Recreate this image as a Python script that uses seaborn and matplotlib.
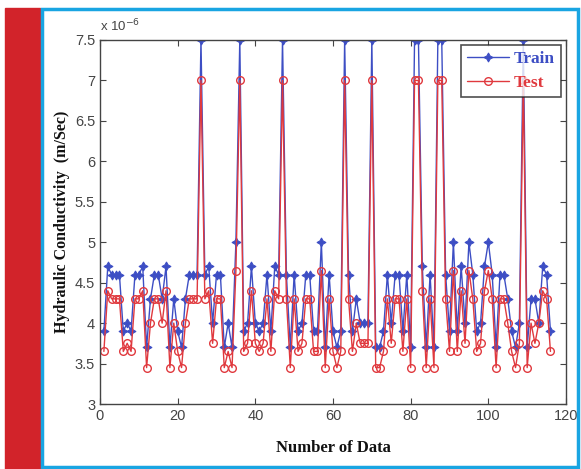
import numpy as np
import matplotlib
matplotlib.use('Agg')
from matplotlib import pyplot as plt
from matplotlib.patches import Rectangle
from matplotlib.ticker import MultipleLocator, FormatStrFormatter
import seaborn as sns

# sample index (1..116), values in units of 1e-6 m/s
num_data = list(range(1, 117))

train = [
    3.9, 4.7, 4.6, 4.6, 4.6, 3.9, 4.0, 3.9, 4.6, 4.6,
    4.7, 3.7, 4.3, 4.6, 4.6, 4.3, 4.7, 3.7, 4.3, 3.9,
    3.7, 4.3, 4.6, 4.6, 4.6, 7.5, 4.6, 4.7, 4.0, 4.6,
    4.6, 3.7, 4.0, 3.7, 5.0, 7.5, 3.9, 4.0, 4.7, 4.0,
    3.9, 4.0, 4.6, 3.9, 4.7, 4.6, 7.5, 4.6, 3.7, 4.6,
    3.9, 4.0, 4.6, 4.6, 3.9, 3.9, 5.0, 3.7, 4.6, 3.9,
    3.7, 3.9, 7.5, 4.6, 3.9, 4.3, 4.0, 4.0, 4.0, 7.5,
    3.7, 3.7, 3.9, 4.6, 4.0, 4.6, 4.6, 3.9, 4.6, 3.7,
    7.5, 7.5, 4.7, 3.7, 4.6, 3.7, 7.5, 7.5, 4.6, 3.9,
    5.0, 3.9, 4.7, 4.0, 5.0, 4.6, 3.9, 4.0, 4.7, 5.0,
    4.6, 3.7, 4.6, 4.6, 4.3, 3.9, 3.7, 4.0, 7.5, 3.7,
    4.3, 4.3, 4.0, 4.7, 4.6, 3.9,
]

test = [
    3.65, 4.4, 4.3, 4.3, 4.3, 3.65, 3.75, 3.65, 4.3, 4.3,
    4.4, 3.45, 4.0, 4.3, 4.3, 4.0, 4.4, 3.45, 4.0, 3.65,
    3.45, 4.0, 4.3, 4.3, 4.3, 7.0, 4.3, 4.4, 3.75, 4.3,
    4.3, 3.45, 3.65, 3.45, 4.65, 7.0, 3.65, 3.75, 4.4, 3.75,
    3.65, 3.75, 4.3, 3.65, 4.4, 4.3, 7.0, 4.3, 3.45, 4.3,
    3.65, 3.75, 4.3, 4.3, 3.65, 3.65, 4.65, 3.45, 4.3, 3.65,
    3.45, 3.65, 7.0, 4.3, 3.65, 4.0, 3.75, 3.75, 3.75, 7.0,
    3.45, 3.45, 3.65, 4.3, 3.75, 4.3, 4.3, 3.65, 4.3, 3.45,
    7.0, 7.0, 4.4, 3.45, 4.3, 3.45, 7.0, 7.0, 4.3, 3.65,
    4.65, 3.65, 4.4, 3.75, 4.65, 4.3, 3.65, 3.75, 4.4, 4.65,
    4.3, 3.45, 4.3, 4.3, 4.0, 3.65, 3.45, 3.75, 7.0, 3.45,
    4.0, 3.75, 4.0, 4.4, 4.3, 3.65,
]

sns.set_style('ticks')
plt.rcParams['font.family'] = ['Liberation Sans', 'DejaVu Sans']

fig = plt.figure(figsize=(5.81, 4.69), dpi=100)
fig.patch.set_facecolor('white')

# page decoration: red side bar and cyan frame
fig.patches.append(Rectangle((5 / 581, 0), 35 / 581, 461 / 469,
                             transform=fig.transFigure, color='#d2232a', zorder=0))
fig.patches.append(Rectangle((41.5 / 581, 2.5 / 469), 536 / 581, 457 / 469,
                             transform=fig.transFigure, fill=False,
                             edgecolor='#19a5e2', linewidth=2.5, zorder=1))

ax = fig.add_axes([100 / 581, 65 / 469, 466 / 581, 364 / 469])

blue = '#3d4ec4'
red = '#e0393e'
sns.lineplot(x=num_data, y=train, ax=ax, color=blue, linewidth=1.0,
             marker=(4, 1, 0), markersize=6.5, markeredgecolor=blue,
             markerfacecolor=blue, label='Train')
sns.lineplot(x=num_data, y=test, ax=ax, color=red, linewidth=1.0,
             marker='o', markersize=5.5, markerfacecolor='none',
             markeredgecolor=red, markeredgewidth=1.0, label='Test')

ax.set_xlim(0, 120)
ax.set_ylim(3, 7.5)
ax.xaxis.set_major_locator(MultipleLocator(20))
ax.yaxis.set_major_locator(MultipleLocator(0.5))
ax.yaxis.set_major_formatter(FormatStrFormatter('%g'))
ax.tick_params(direction='in', top=True, right=True, length=4,
               labelsize=10.5, colors='#444444', width=0.8)
for sp in ax.spines.values():
    sp.set_visible(True)
    sp.set_color('#444444')
    sp.set_linewidth(1.0)

ax.text(0.0, 1.015, r'x 10$^{-6}$', transform=ax.transAxes,
        fontsize=9.5, color='#444444', ha='left', va='bottom')

serif = ['Liberation Serif', 'DejaVu Serif']
ax.set_xlabel('Number of Data', family=serif, fontweight='bold',
              fontsize=12, color='#111111')
ax.xaxis.set_label_coords(0.5, -0.098)
ax.set_ylabel('Hydraulic Conductivity  (m/Sec)', family=serif,
              fontweight='bold', fontsize=11.5, color='#111111')
ax.yaxis.set_label_coords(-0.064, 0.5)

leg = ax.legend(loc='upper right', frameon=True, fancybox=False,
                edgecolor='#222222', handlelength=2.4, handletextpad=0.3,
                borderpad=0.35, labelspacing=0.45, borderaxespad=0.3,
                prop={'family': serif, 'weight': 'bold', 'size': 12.5})
leg.get_frame().set_linewidth(1.2)
for txt, c in zip(leg.get_texts(), [blue, red]):
    txt.set_color(c)

fig.savefig('out.png', dpi=100)
